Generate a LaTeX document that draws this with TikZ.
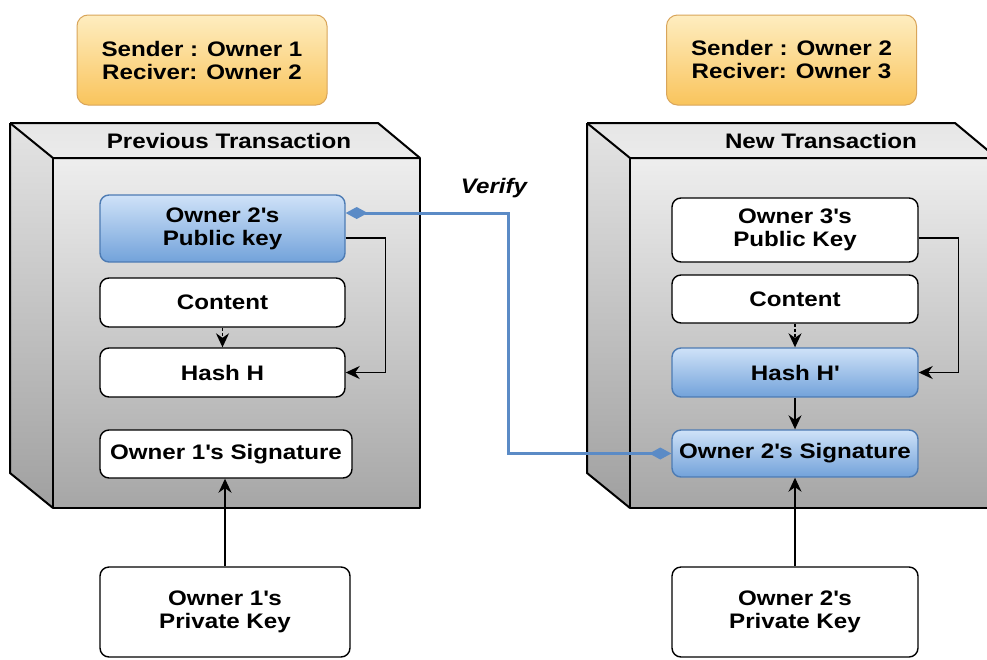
\documentclass[tikz,border=0pt]{standalone}
\usepackage{fontspec}
\setmainfont{Liberation Sans}[FakeStretch=1.15]
\usetikzlibrary{arrows.meta}

\newcommand\sq{\textquotesingle}

\definecolor{facetop}{HTML}{EEEEEE}
\definecolor{facebot}{HTML}{A6A6A6}
\definecolor{sidetop}{HTML}{E4E4E4}
\definecolor{sidebot}{HTML}{A0A0A0}
\definecolor{roof}{HTML}{E6E6E6}
\definecolor{bluetop}{HTML}{CFE2F8}
\definecolor{bluebot}{HTML}{72A2DA}
\definecolor{blueedge}{HTML}{4D7BB3}
\definecolor{orangetop}{HTML}{FEEDC0}
\definecolor{orangebot}{HTML}{F9C45C}
\definecolor{orangeedge}{HTML}{D9A55A}
\definecolor{verifyblue}{HTML}{5B8BC6}

\tikzset{
  label font/.style={font=\fontsize{21}{23}\selectfont\bfseries},
  box/.style={label font, rounded corners=9pt, draw=black, line width=1.4pt,
    fill=white, align=center, inner sep=0pt, minimum width=245pt, minimum height=49pt},
  bluebox/.style={box, draw=blueedge, top color=bluetop, bottom color=bluebot},
  tag/.style={label font, rounded corners=11pt, draw=orangeedge, line width=1pt,
    top color=orangetop, bottom color=orangebot, align=center, inner sep=0pt,
    minimum width=250pt, minimum height=90pt},
  title/.style={label font},
  link/.style={draw=black, line width=1.5pt, -{Stealth[length=14pt,width=13pt]}},
  verify/.style={draw=verifyblue, line width=3pt,
    {Diamond[length=22pt,width=12pt]}-{Diamond[length=22pt,width=12pt]}},
  edge line/.style={draw=black, line width=2pt, line join=round},
}

\begin{document}
\begin{tikzpicture}[x=1pt,y=-1pt]
\useasboundingbox (0,0) rectangle (987,659);
\clip (0,0) rectangle (987,659);
\fill[white] (0,0) rectangle (987,659);

% ---- transaction blocks drawn as open boxes ----
\foreach \ox in {0,577}{
  \begin{scope}[xshift=\ox pt]
    \shade[top color=roof, bottom color=roof!80!white]
      (10,123) -- (378,123) -- (420,158) -- (53,158) -- cycle;
    \shade[top color=sidetop, bottom color=sidebot]
      (10,123) -- (53,158) -- (53,508) -- (10,473) -- cycle;
    \shade[top color=facetop, bottom color=facebot] (53,158) rectangle (420,508);
    \draw[edge line] (10,123) -- (378,123) -- (420,158);
    \draw[edge line] (10,123) -- (53,158) -- (420,158);
    \draw[edge line] (10,123) -- (10,473) -- (53,508);
    \draw[edge line] (53,158) rectangle (420,508);
  \end{scope}
}

\node[title] (pt1) at (229,141) {Previous Transaction};
\node[title] (pt2) at (821,141) {New Transaction};

% ---- sender / receiver tags ----
\node[tag] (t1) at (202,60) {Sender : Owner 1\\Reciver: Owner 2};
\node[tag] (t2) at (791.5,60) {Sender : Owner 2\\Reciver: Owner 3};

% ---- previous transaction ----
\node[bluebox, minimum height=67pt] (pk1) at (222.5,228.5) {Owner 2\sq s\\Public key};
\node[box] (c1) at (222.5,302.5) {Content};
\node[box] (h1) at (222.5,372.5) {Hash H};
\node[box, minimum width=252pt, minimum height=48pt] (s1) at (226,454) {Owner 1\sq s Signature};
\node[box, minimum width=250pt, minimum height=90pt] (pv1) at (225,612) {Owner 1\sq s\\Private Key};

% ---- new transaction ----
\node[box, minimum width=246pt, minimum height=64pt] (pk2) at (795,230) {Owner 3\sq s\\Public Key};
\node[box, minimum width=246pt, minimum height=48pt] (c2) at (795,299) {Content};
\node[bluebox, minimum width=246pt] (h2) at (795,372.5) {Hash H\sq};
\node[bluebox, minimum width=246pt, minimum height=47pt] (s2) at (795,453.5) {Owner 2\sq s Signature};
\node[box, minimum width=246pt, minimum height=90pt] (pv2) at (795,612) {Owner 2\sq s\\Private Key};

% ---- connectors ----
\draw[link, dash pattern=on 3pt off 2pt] (c1.south) -- (h1.north);
\draw[link] ([yshift=-9.5pt]pk1.east) -- ++(40,0) |- (h1.east);
\draw[link] (pv1.north) -- (pv1.north |- s1.south);

\draw[link, dash pattern=on 3pt off 2pt] (c2.south) -- (h2.north);
\draw[link] ([yshift=-8pt]pk2.east) -- ++(40,0) |- (h2.east);
\draw[link] (h2.south) -- (s2.north);
\draw[link] (pv2.north) -- (s2.south);

\coordinate (vx) at (508,0);
\draw[verify] ([yshift=15.5pt]pk1.east) -| (vx |- s2.west) -- (s2.west);
\node[font=\fontsize{21}{23}\selectfont\bfseries\itshape] (vlab) at (494,188) {Verify};
\end{tikzpicture}
\end{document}
